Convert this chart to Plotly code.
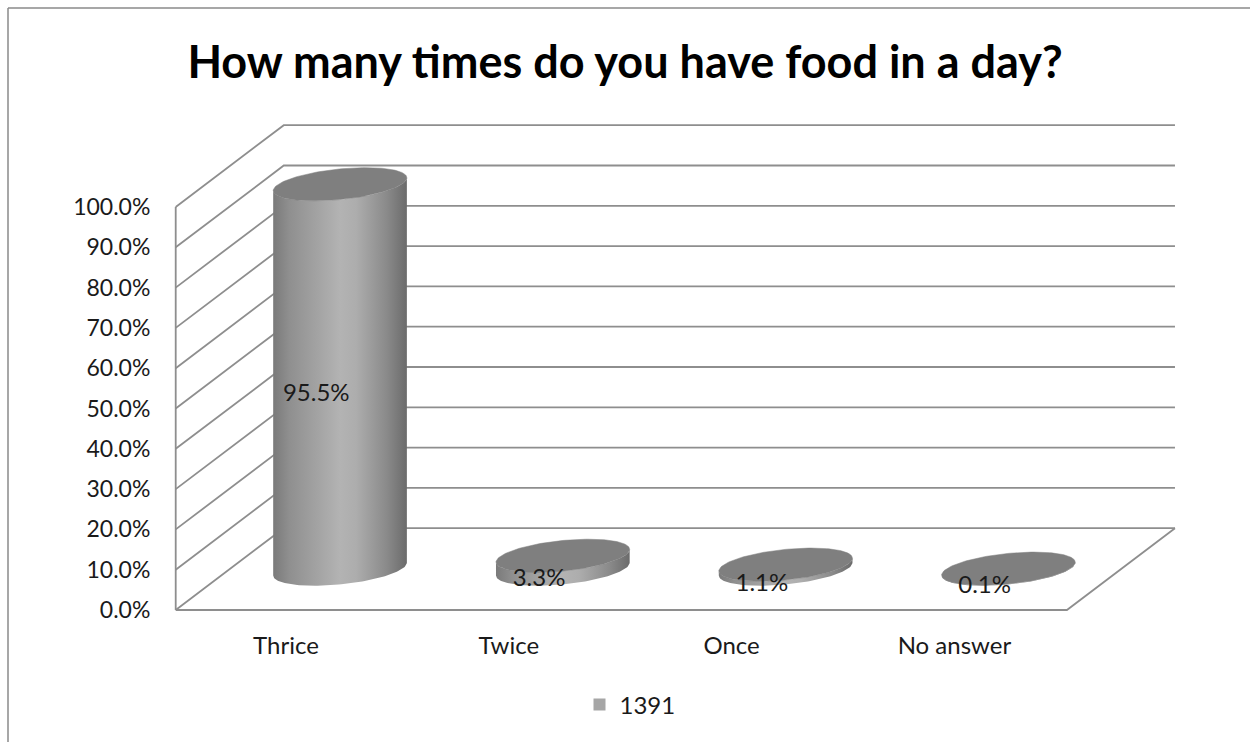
import numpy as np
import plotly.graph_objects as go

# ---- data ----
categories = ["Thrice", "Twice", "Once", "No answer"]
shares = [95.5, 3.3, 1.1, 0.1]          # percent of respondents
series_name = "1391"
y_ticks = [0, 10, 20, 30, 40, 50, 60, 70, 80, 90, 100]

# ---- canvas & oblique projection ----
W, H = 1250, 742
PX0, PX_STEP = 286.0, 222.8     # pixel x of first category on the front plane, px per category
PY0, PY_STEP = 610.0, 4.03      # pixel y of 0 % on the front plane, px per percentage point
X_RANGE = [(0 - PX0) / PX_STEP, (W - PX0) / PX_STEP]
Y_RANGE = [(PY0 - H) / PY_STEP, PY0 / PY_STEP]

DEPTH_X = 0.485                 # front -> back shift, in category units
DEPTH_Y = 20.3                  # front -> back shift, in percentage points
X_LO, X_HI = -0.495, 3.505      # left / right edge of the front plane

RX, RY, SHEAR = 0.30, 3.8, 5.3  # cylinder ellipse radii and tilt
LABEL_DEPTH = 0.28

FONT = "Lato"
WALL_COLOR = "#8e8e8e"
BODY_SCALE = [[0.0, "#7a7a7a"], [0.12, "#8f8f8f"], [0.5, "#b3b3b3"],
              [0.62, "#adadad"], [0.85, "#8a8a8a"], [1.0, "#6b6b6b"]]
CAP_COLOR = "#7f7f7f"
SERIES_COLOR = "#a6a6a6"

fig = go.Figure()

# ---- walls: left side wall, back wall gridlines, floor ----
wall_x, wall_y = [], []


def segment(points):
    for px, py in points:
        wall_x.append(px)
        wall_y.append(py)
    wall_x.append(None)
    wall_y.append(None)


segment([(X_LO, y_ticks[0]), (X_LO, y_ticks[-1])])
for t in y_ticks:
    segment([(X_LO, t), (X_LO + DEPTH_X, t + DEPTH_Y), (X_HI + DEPTH_X, t + DEPTH_Y)])
segment([(X_LO, 0), (X_HI, 0), (X_HI + DEPTH_X, DEPTH_Y)])

fig.add_trace(go.Scatter(x=wall_x, y=wall_y, mode="lines",
                         line=dict(color=WALL_COLOR, width=1.8),
                         hoverinfo="skip", showlegend=False))

# ---- cylinders ----
def ellipse(cx, cy, t):
    return (cx + RX * np.cos(t),
            cy + RY * np.sin(t) + SHEAR * RX * np.cos(t))


t_front = np.linspace(np.pi, 2 * np.pi, 80)
t_full = np.linspace(0, 2 * np.pi, 160)

for i, (cat, v) in enumerate(zip(categories, shares)):
    cx = i + 0.5 * DEPTH_X
    base = 0.5 * DEPTH_Y
    top = base + v
    bx, by = ellipse(cx, base, t_front)
    tx, ty = ellipse(cx, top, t_front[::-1])
    body_x = np.concatenate([bx, tx, bx[:1]])
    body_y = np.concatenate([by, ty, by[:1]])
    fig.add_trace(go.Scatter(
        x=body_x, y=body_y, mode="lines", fill="toself",
        line=dict(width=0, color=CAP_COLOR),
        fillgradient=dict(type="horizontal", colorscale=BODY_SCALE),
        hoverinfo="skip", showlegend=False))
    cxs, cys = ellipse(cx, top, t_full)
    fig.add_trace(go.Scatter(
        x=cxs, y=cys, mode="lines", fill="toself",
        line=dict(width=0.5, color=CAP_COLOR), fillcolor=CAP_COLOR,
        name=cat, hovertemplate=f"{cat}: {v:.1f}%<extra></extra>",
        showlegend=False))

# ---- value labels ----
fig.add_trace(go.Scatter(
    x=[i + LABEL_DEPTH * DEPTH_X for i in range(len(shares))],
    y=[v / 2 + LABEL_DEPTH * DEPTH_Y for v in shares],
    text=[f"{v:.1f}%" for v in shares],
    mode="text", textfont=dict(family=FONT, size=24, color="#1a1a1a"),
    hoverinfo="skip", showlegend=False))

# ---- legend entry ----
fig.add_trace(go.Scatter(
    x=[None], y=[None], mode="markers", name=series_name,
    marker=dict(symbol="square", size=12, color=SERIES_COLOR),
    showlegend=True))

# ---- outer chart border (left and top edges) ----
fig.add_shape(type="line", xref="paper", yref="paper",
              x0=8 / W, x1=8 / W, y0=0, y1=1 - 8 / H,
              line=dict(color="#8a8a8a", width=1.5))
fig.add_shape(type="line", xref="paper", yref="paper",
              x0=8 / W, x1=1, y0=1 - 8 / H, y1=1 - 8 / H,
              line=dict(color="#8a8a8a", width=1.5))

fig.update_layout(
    width=W, height=H, autosize=False,
    margin=dict(l=0, r=0, t=0, b=0),
    paper_bgcolor="white", plot_bgcolor="white",
    font=dict(family=FONT, color="#1a1a1a"),
    title=dict(text="<b>How many times do you have food in a day?</b>",
               x=0.5, xanchor="center", y=1 - 62 / H, yanchor="middle",
               font=dict(family=FONT, size=45, color="#000000")),
    xaxis=dict(range=X_RANGE, domain=[0, 1], anchor="free", position=(H - PY0) / H,
               tickvals=list(range(len(categories))), ticktext=categories,
               ticks="outside", ticklen=14, tickcolor="rgba(0,0,0,0)",
               showgrid=False, zeroline=False, showline=False,
               tickfont=dict(family=FONT, size=24, color="#1a1a1a"), fixedrange=True),
    yaxis=dict(range=Y_RANGE, domain=[0, 1], anchor="free", position=175 / W,
               tickvals=y_ticks, ticktext=[f"{t:.1f}%" for t in y_ticks],
               ticks="outside", ticklen=20, tickcolor="rgba(0,0,0,0)",
               showgrid=False, zeroline=False, showline=False,
               tickfont=dict(family=FONT, size=23, color="#1a1a1a"), fixedrange=True),
    showlegend=True,
    legend=dict(x=0.5 + 5 / W, xanchor="center", y=(H - 705) / H, yanchor="middle",
                orientation="h", font=dict(family=FONT, size=24, color="#1a1a1a"),
                bgcolor="rgba(0,0,0,0)"),
)

fig.write_html("out.html")
